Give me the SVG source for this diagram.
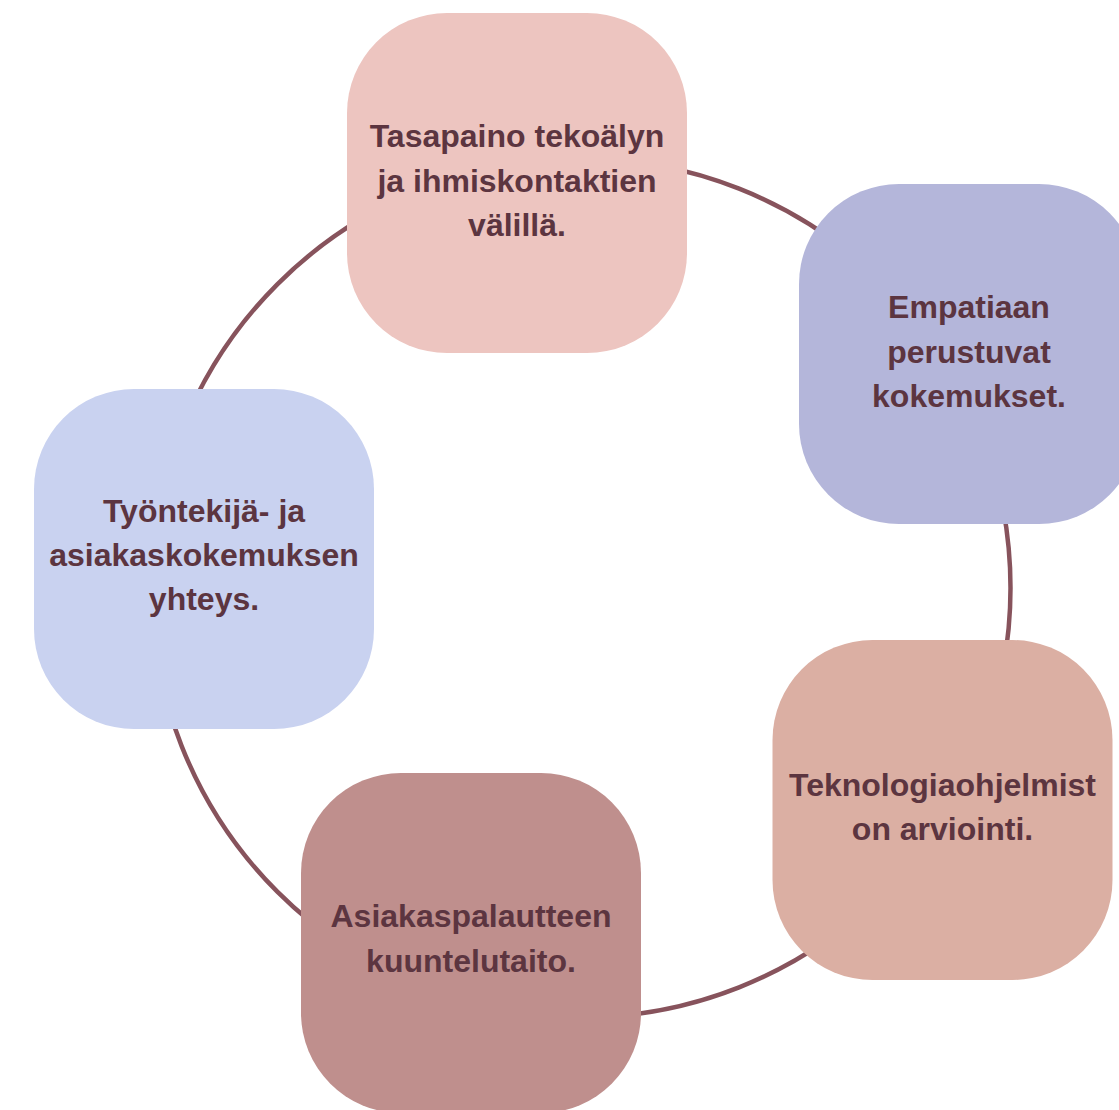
<svg xmlns="http://www.w3.org/2000/svg" width="1119" height="1110" viewBox="0 0 1119 1110">
<style>
.box{stroke:none}
.lbl{font-family:"Liberation Sans",Arial,sans-serif;font-weight:bold;font-size:32px;fill:#5C3540;text-anchor:middle}
.ring{fill:none;stroke:#87535C;stroke-width:4.5}
</style>
<rect width="1119" height="1110" fill="#ffffff"/>
<g id="connectors">
<circle class="ring" cx="581" cy="588" r="429.5"/>
</g>
<g id="node-top">
<rect class="box" x="347" y="13" width="340" height="340" rx="100" ry="100" fill="#EDC5C0"/>
<text class="lbl" x="517" y="147">Tasapaino tekoälyn</text>
<text class="lbl" x="517" y="191.5">ja ihmiskontaktien</text>
<text class="lbl" x="517" y="236">välillä.</text>
</g>
<g id="node-right-top">
<rect class="box" x="799" y="184" width="340" height="340" rx="100" ry="100" fill="#B4B6DA"/>
<text class="lbl" x="969" y="318">Empatiaan</text>
<text class="lbl" x="969" y="362.5">perustuvat</text>
<text class="lbl" x="969" y="407">kokemukset.</text>
</g>
<g id="node-right-bottom">
<rect class="box" x="772.5" y="640" width="340" height="340" rx="100" ry="100" fill="#DBAFA3"/>
<text class="lbl" x="942.5" y="796">Teknologiaohjelmist</text>
<text class="lbl" x="942.5" y="840">on arviointi.</text>
</g>
<g id="node-bottom">
<rect class="box" x="301" y="773" width="340" height="340" rx="100" ry="100" fill="#BF8F8D"/>
<text class="lbl" x="471" y="927">Asiakaspalautteen</text>
<text class="lbl" x="471" y="971.5">kuuntelutaito.</text>
</g>
<g id="node-left">
<rect class="box" x="34" y="389" width="340" height="340" rx="100" ry="100" fill="#C9D2F0"/>
<text class="lbl" x="204" y="521.5">Työntekijä- ja</text>
<text class="lbl" x="204" y="565.5">asiakaskokemuksen</text>
<text class="lbl" x="204" y="609.5">yhteys.</text>
</g>
</svg>
